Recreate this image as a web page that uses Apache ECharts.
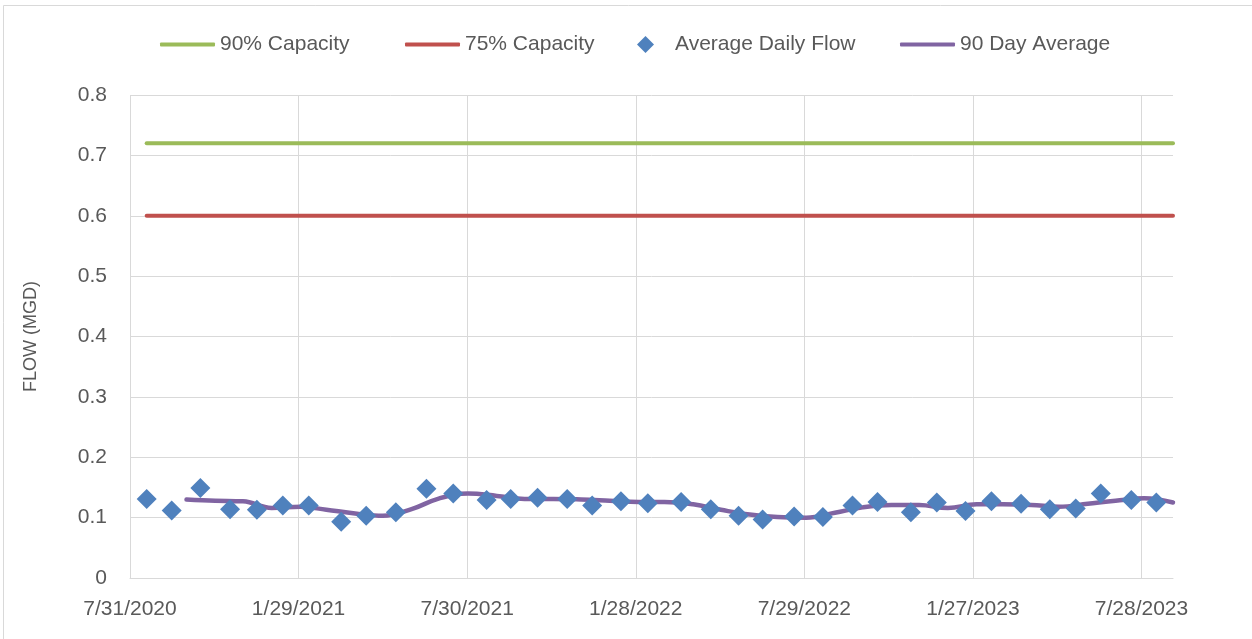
<!DOCTYPE html>
<html>
<head>
<meta charset="utf-8">
<script src="https://cdn.jsdelivr.net/npm/echarts@6/dist/echarts.min.js"></script>
<style>
html,body{margin:0;padding:0;background:#fff;}
#chart{width:1252px;height:639px;}
</style>
</head>
<body>
<div id="chart"></div>
<script>
// ---- data ----
const axisStartDate = '2020-07-31';
const axisEndDate = '2023-08-31';
const tickIntervalDays = 182;
const yTicks = [0, 0.1, 0.2, 0.3, 0.4, 0.5, 0.6, 0.7, 0.8];

const dailyDates = [
  '2020-08-18','2020-09-14','2020-10-15','2020-11-16','2020-12-15','2021-01-12','2021-02-09',
  '2021-03-16','2021-04-12','2021-05-14','2021-06-16','2021-07-15','2021-08-20','2021-09-15',
  '2021-10-14','2021-11-15','2021-12-12','2022-01-12','2022-02-10','2022-03-18','2022-04-19',
  '2022-05-19','2022-06-14','2022-07-18','2022-08-18','2022-09-19','2022-10-16','2022-11-21',
  '2022-12-19','2023-01-19','2023-02-16','2023-03-20','2023-04-20','2023-05-18','2023-06-14',
  '2023-07-17','2023-08-13'
];
const dailyFlow = [
  0.131,0.112,0.149,0.114,0.113,0.120,0.120,
  0.093,0.103,0.109,0.148,0.140,0.129,0.131,
  0.133,0.131,0.120,0.127,0.124,0.126,0.114,
  0.103,0.097,0.102,0.101,0.120,0.126,0.109,
  0.125,0.111,0.127,0.123,0.114,0.115,0.140,
  0.129,0.125
];

const avgDates = [
  '2020-09-30','2020-10-31','2020-11-30','2020-12-31','2021-01-31','2021-02-28',
  '2021-03-31','2021-04-30','2021-05-31','2021-06-30','2021-07-31','2021-08-31',
  '2021-09-30','2021-10-31','2021-11-30','2021-12-31','2022-01-31','2022-02-28',
  '2022-03-31','2022-04-30','2022-05-31','2022-06-30','2022-07-31','2022-08-31',
  '2022-09-30','2022-10-31','2022-11-30','2022-12-31','2023-01-31','2023-02-28',
  '2023-03-31','2023-04-30','2023-05-31','2023-06-30','2023-07-31','2023-08-31'
];
const avg90 = [
  0.130,0.128,0.127,0.116,0.118,0.113,
  0.107,0.103,0.114,0.132,0.140,0.136,
  0.131,0.131,0.130,0.128,0.126,0.126,
  0.122,0.113,0.105,0.101,0.100,0.108,
  0.117,0.121,0.121,0.116,0.122,0.122,
  0.121,0.118,0.123,0.128,0.132,0.125
];

const capDates = ['2020-08-18','2023-08-31'];
const cap90 = [0.72, 0.72];
const cap75 = [0.60, 0.60];

// ---- helpers ----
const DAY = 86400000;
function toUTC(s){ const p = s.split('-').map(Number); return Date.UTC(p[0], p[1]-1, p[2]); }
const t0 = toUTC(axisStartDate);
function dayIdx(s){ return Math.round((toUTC(s) - t0) / DAY); }
function pairs(dates, vals){ return dates.map((d,i)=>[dayIdx(d), vals[i]]); }
function fmtDate(v){
  const d = new Date(t0 + v*DAY);
  return (d.getUTCMonth()+1) + '/' + d.getUTCDate() + '/' + d.getUTCFullYear();
}

const FONT = 'Liberation Sans';
const TXT = '#595959';
const GRID = '#D9D9D9';

const chart = echarts.init(document.getElementById('chart'), null, {renderer:'canvas'});
const legendText = {fontFamily: FONT, fontSize: 21, color: TXT};
const legendBase = {
  top: 34, padding: 0, selectedMode: false, textStyle: legendText
};
chart.setOption({
  animation: false,
  backgroundColor: '#fff',
  graphic: [{
    type: 'rect', silent: true, z: -10,
    shape: {x: 3.5, y: 5.5, width: 1300, height: 700},
    style: {fill: 'none', stroke: GRID, lineWidth: 1}
  }],
  legend: [
    Object.assign({}, legendBase, {data: [{name: '90% Capacity', icon: 'roundRect'}], left: 160, itemWidth: 55, itemHeight: 4}),
    Object.assign({}, legendBase, {data: [{name: '75% Capacity', icon: 'roundRect'}], left: 405, itemWidth: 55, itemHeight: 4}),
    Object.assign({}, legendBase, {data: [{name: 'Average Daily Flow', icon: 'diamond'}], left: 637, itemWidth: 17, itemHeight: 17,
      textStyle: Object.assign({}, legendText, {padding: [0,0,0,16]})}),
    Object.assign({}, legendBase, {data: [{name: '90 Day Average', icon: 'roundRect'}], left: 900, itemWidth: 55, itemHeight: 4})
  ],
  grid: {left: 130, right: 79, top: 95, bottom: 61, containLabel: false},
  xAxis: {
    type: 'value',
    min: 0,
    max: dayIdx(axisEndDate),
    interval: tickIntervalDays,
    axisLine: {show: true, lineStyle: {color: GRID, width: 1}},
    axisTick: {show: false},
    splitLine: {show: true, showMinLine: true, showMaxLine: false, lineStyle: {color: GRID, width: 1}},
    axisLabel: {
      showMaxLabel: false,
      margin: 21,
      fontFamily: FONT, fontSize: 21, color: TXT,
      formatter: function(v){ return (v % tickIntervalDays === 0) ? fmtDate(v) : ''; }
    }
  },
  yAxis: {
    type: 'value',
    min: yTicks[0], max: yTicks[yTicks.length-1], interval: 0.1,
    name: 'FLOW (MGD)',
    nameLocation: 'middle',
    nameGap: 90,
    nameTextStyle: {fontFamily: FONT, fontSize: 18, color: TXT},
    axisLine: {show: false},
    axisTick: {show: false},
    splitLine: {show: true, lineStyle: {color: GRID, width: 1}},
    axisLabel: {
      margin: 23, fontFamily: FONT, fontSize: 21, color: TXT,
      formatter: function(v){ return v === 0 ? '0' : v.toFixed(1); }
    }
  },
  series: [
    {
      name: '90% Capacity', type: 'line', symbol: 'none', z: 3,
      data: pairs(capDates, cap90),
      lineStyle: {color: '#9BBB59', width: 4, cap: 'round'},
      itemStyle: {color: '#9BBB59'}
    },
    {
      name: '75% Capacity', type: 'line', symbol: 'none', z: 3,
      data: pairs(capDates, cap75),
      lineStyle: {color: '#C0504D', width: 4, cap: 'round'},
      itemStyle: {color: '#C0504D'}
    },
    {
      name: 'Average Daily Flow', type: 'scatter', symbol: 'diamond', symbolSize: 20, z: 5,
      data: pairs(dailyDates, dailyFlow),
      itemStyle: {color: '#4F81BD', opacity: 1}
    },
    {
      name: '90 Day Average', type: 'line', symbol: 'none', smooth: 0.4, z: 4,
      data: pairs(avgDates, avg90),
      lineStyle: {color: '#8064A2', width: 4.5, cap: 'round'},
      itemStyle: {color: '#8064A2'}
    }
  ]
});
</script>
</body>
</html>
